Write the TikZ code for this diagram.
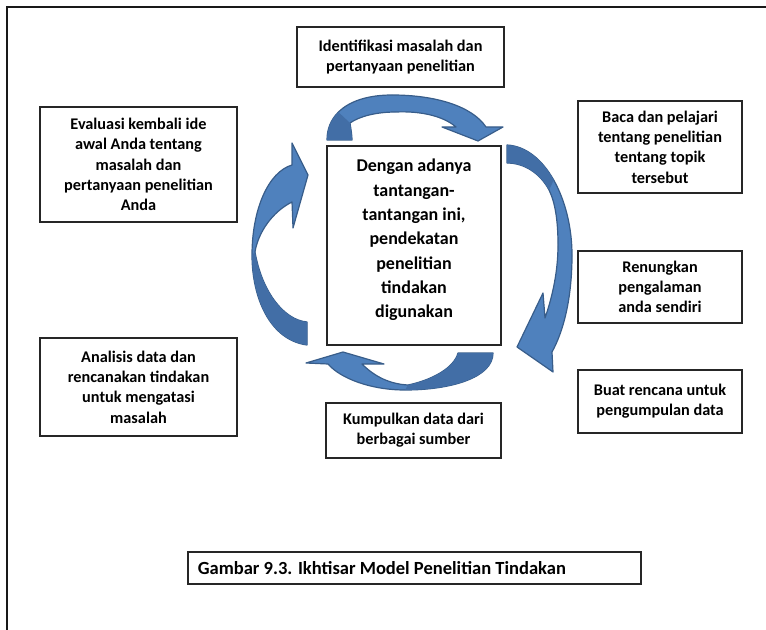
\documentclass[tikz,border=0pt]{standalone}
\usepackage{fontspec}
\setmainfont{Carlito}
\usepackage{xcolor}
\usepackage{tikz}

\definecolor{biru}{RGB}{79,129,189}
\definecolor{birutua}{RGB}{66,110,166}
\definecolor{garisbiru}{RGB}{56,93,138}

\begin{document}
\begin{tikzpicture}[x=0.75pt, y=-0.75pt,
        kotak/.style={draw=black!85, line width=0.9pt, fill=white, align=center, inner sep=2pt, font=\bfseries\fontsize{12.2}{15.2}\selectfont},
        panah/.style={fill=biru, draw=garisbiru, line width=0.9pt, line join=round},
        lipat/.style={fill=birutua},
    ]
    \useasboundingbox (0,0) rectangle (766,630);

    % Frame
    \draw[line width=1.3pt, black!90] (766,7) -- (7,7) -- (7,630);

    % Center
    \node[kotak, font=\bfseries\fontsize{13.5}{18.25}\selectfont, minimum width=130.5pt, minimum height=149.25pt] (pusat) at (414,245.5)
        {Dengan adanya\\tantangan-\\tantangan ini,\\pendekatan\\penelitian\\tindakan\\digunakan\\[-8pt]\mbox{}};

    % Steps
    \node[kotak, minimum width=155.25pt, minimum height=45pt] (identifikasi) at (400.5,57)
        {Identifikasi masalah dan\\pertanyaan penelitian};
    \node[kotak, minimum width=123pt, minimum height=69pt] (baca) at (660,147)
        {Baca dan pelajari\\tentang penelitian\\tentang topik\\tersebut};
    \node[kotak, minimum width=123pt, minimum height=54pt] (renungkan) at (660,287)
        {Renungkan\\pengalaman\\anda sendiri};
    \node[kotak, minimum width=123pt, minimum height=47.25pt] (rencana) at (660,401.5)
        {Buat rencana untuk\\pengumpulan data};
    \node[kotak, minimum width=131.25pt, minimum height=41.25pt] (kumpulkan) at (413.5,430.5)
        {Kumpulkan data dari\\berbagai sumber};
    \node[kotak, minimum width=147.75pt, minimum height=73.5pt] (analisis) at (138.5,387)
        {Analisis data dan\\rencanakan tindakan\\untuk mengatasi\\masalah};
    \node[kotak, minimum width=147.75pt, minimum height=86.25pt] (evaluasi) at (138.5,164.5)
        {Evaluasi kembali ide\\awal Anda tentang\\masalah dan\\pertanyaan penelitian\\Anda};

    % Caption
    \node[kotak, font=\bfseries\fontsize{13.9}{17}\selectfont, minimum width=339.75pt, minimum height=24pt, text width=325pt, align=flush left, inner xsep=7pt] (judul) at (414.5,568)
        {Gambar 9.3. Ikhtisar Model Penelitian Tindakan};

    % Top arrow
    \draw[panah] (327,140) .. controls (327,128.8) and (331,119.4) .. (338.4,112.1)
        .. controls (349.4,101.1) and (368,95) .. (392,95)
        .. controls (435,95) and (472,106) .. (486,127)
        -- (503,127) -- (478,141) -- (442,127) -- (456,127)
        .. controls (442,115) and (418,111) .. (396,112)
        .. controls (377,112) and (360,116) .. (350,123)
        .. controls (351,130) and (352,135) .. (352,140) -- cycle;
    \fill[lipat] (327,140) .. controls (327,128.8) and (331,119.4) .. (338.4,112.1)
        -- (350,123) .. controls (351,130) and (352,135) .. (352,140) -- cycle;

    % Right arrow
    \draw[panah] (507,145) .. controls (526,146) and (542.25,159.75) .. (553.75,180.1)
        .. controls (565.25,200.5) and (572,227.5) .. (572,255)
        .. controls (572,300) and (563,332) .. (552,352)
        -- (553,372) -- (517,347) -- (543,293) -- (545,318)
        .. controls (553,295) and (558,270) .. (558,245)
        .. controls (558,220) and (555,202) .. (549,190)
        .. controls (540,173) and (524,163) .. (507,163) -- cycle;
    \fill[lipat] (507,145) .. controls (526,146) and (542.25,159.75) .. (553.75,180.1)
        -- (549,190) .. controls (540,173) and (524,163) .. (507,163) -- cycle;

    % Bottom arrow
    \draw[panah] (493,353) .. controls (493,378) and (450,390) .. (405,390)
        .. controls (370,390) and (340,378) .. (328,364)
        -- (306,363) -- (343,352) -- (384,364) -- (362,364)
        .. controls (375,377) and (390,384) .. (408,385)
        .. controls (432,380) and (454,368) .. (458,353) -- cycle;
    \fill[lipat] (493,353) .. controls (493,378) and (450,390) .. (405,390)
        -- (408,385) .. controls (432,380) and (454,368) .. (458,353) -- cycle;

    % Left arrow
    \draw[panah] (307,345) .. controls (270,340) and (252,298) .. (252,255)
        .. controls (252,210) and (268,172) .. (292,165)
        -- (292,143) -- (308,175) -- (293,228) -- (292,202)
        .. controls (272,212) and (258,233) .. (255,252)
        .. controls (262,292) and (284,320) .. (307,322) -- cycle;
    \fill[lipat] (307,345) .. controls (270,340) and (252,298) .. (252,255)
        -- (255,252) .. controls (262,292) and (284,320) .. (307,322) -- cycle;

\end{tikzpicture}
\end{document}
